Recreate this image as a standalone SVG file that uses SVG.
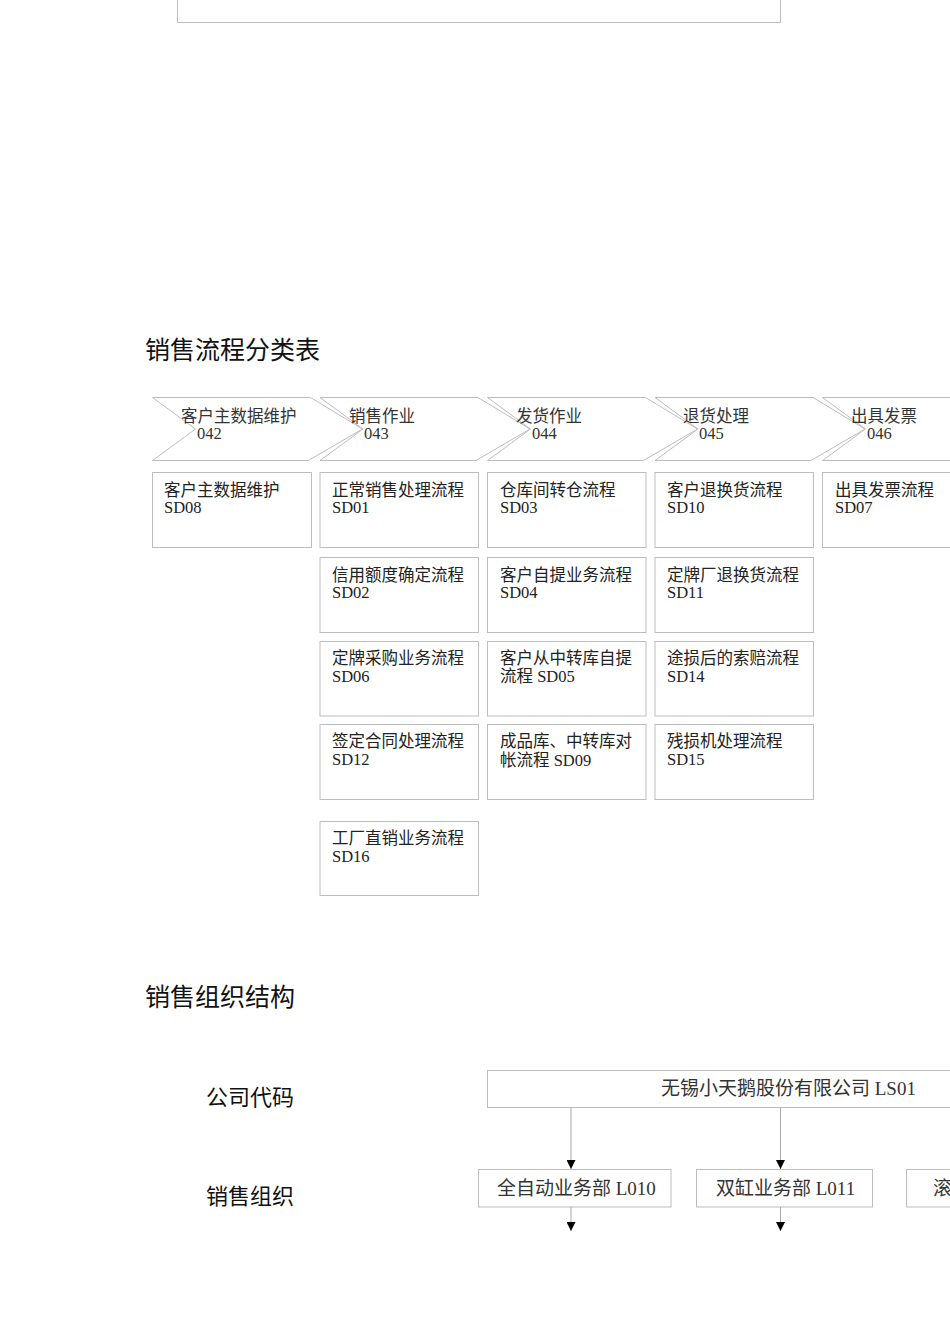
<svg xmlns="http://www.w3.org/2000/svg" width="950" height="1344" viewBox="0 0 950 1344">
<defs>
<style>
.bg{fill:#ffffff}
.box{fill:#ffffff;stroke:#bdbdbd;stroke-width:1}
.chev{fill:#ffffff;stroke:#bdbdbd;stroke-width:1}
.t{font-family:"Liberation Serif","Noto Sans CJK SC",serif;font-size:16.5px;fill:#222}
.ct{font-family:"Liberation Serif","Noto Sans CJK SC",serif;font-size:16.5px;fill:#333}
.ot{font-family:"Liberation Serif","Noto Sans CJK SC",serif;font-size:19px;fill:#333}
.h{font-family:"Noto Sans CJK SC","Liberation Sans",sans-serif;font-size:25px;fill:#111}
.lab{font-family:"Noto Sans CJK SC","Liberation Sans",sans-serif;font-size:22px;fill:#111}
.conn{stroke:#a8a8a8;stroke-width:1;fill:none}
</style>
<marker id="arr" markerWidth="9" markerHeight="9" refX="9" refY="4.5" orient="auto" markerUnits="userSpaceOnUse" viewBox="0 0 9 9">
<path d="M0,0 L9,4.5 L0,9 Z" fill="#000"/>
</marker>
</defs>
<rect class="bg" x="0" y="0" width="950" height="1344"/>

<g id="top-box"><rect class="box" x="177.5" y="-5" width="603" height="27.5"/></g>

<text class="h" x="145" y="359">销售流程分类表</text>

<g id="chev-042">
<polygon class="chev" points="152.5,397.5 310.5,397.5 362.5,429 308.5,460.5 152.5,460.5 195.5,429"/>
<text class="ct" x="181" y="422">客户主数据维护</text>
<text class="ct" x="197" y="439">042</text>
</g>
<g id="chev-043">
<polygon class="chev" points="320,397.5 478,397.5 530,429 476,460.5 320,460.5 363,429"/>
<text class="ct" x="349" y="422">销售作业</text>
<text class="ct" x="364" y="439">043</text>
</g>
<g id="chev-044">
<polygon class="chev" points="487.5,397.5 645.5,397.5 697.5,429 643.5,460.5 487.5,460.5 530.5,429"/>
<text class="ct" x="516" y="422">发货作业</text>
<text class="ct" x="532" y="439">044</text>
</g>
<g id="chev-045">
<polygon class="chev" points="655,397.5 813,397.5 865,429 811,460.5 655,460.5 698,429"/>
<text class="ct" x="683" y="422">退货处理</text>
<text class="ct" x="699" y="439">045</text>
</g>
<g id="chev-046">
<polygon class="chev" points="822.5,397.5 980.5,397.5 1032.5,429 978.5,460.5 822.5,460.5 865.5,429"/>
<text class="ct" x="851" y="422">出具发票</text>
<text class="ct" x="867" y="439">046</text>
</g>

<g id="sd08"><rect class="box" x="152.5" y="472.5" width="159" height="75"/><text class="t" x="164" y="496">客户主数据维护</text><text class="t" x="164" y="513">SD08</text></g>
<g id="sd01"><rect class="box" x="320" y="472.5" width="158.5" height="75"/><text class="t" x="332" y="496">正常销售处理流程</text><text class="t" x="332" y="513">SD01</text></g>
<g id="sd03"><rect class="box" x="487.5" y="472.5" width="158.5" height="75"/><text class="t" x="500" y="496">仓库间转仓流程</text><text class="t" x="500" y="513">SD03</text></g>
<g id="sd10"><rect class="box" x="655" y="472.5" width="158.5" height="75"/><text class="t" x="667" y="496">客户退换货流程</text><text class="t" x="667" y="513">SD10</text></g>
<g id="sd07"><rect class="box" x="822.5" y="472.5" width="160" height="75"/><text class="t" x="835" y="496">出具发票流程</text><text class="t" x="835" y="513">SD07</text></g>

<g id="sd02"><rect class="box" x="320" y="557.5" width="158.5" height="75"/><text class="t" x="332" y="581">信用额度确定流程</text><text class="t" x="332" y="598">SD02</text></g>
<g id="sd04"><rect class="box" x="487.5" y="557.5" width="158.5" height="75"/><text class="t" x="500" y="581">客户自提业务流程</text><text class="t" x="500" y="598">SD04</text></g>
<g id="sd11"><rect class="box" x="655" y="557.5" width="158.5" height="75"/><text class="t" x="667" y="581">定牌厂退换货流程</text><text class="t" x="667" y="598">SD11</text></g>

<g id="sd06"><rect class="box" x="320" y="641.5" width="158.5" height="74.5"/><text class="t" x="332" y="664">定牌采购业务流程</text><text class="t" x="332" y="682">SD06</text></g>
<g id="sd05"><rect class="box" x="487.5" y="641.5" width="158.5" height="74.5"/><text class="t" x="500" y="664">客户从中转库自提</text><text class="t" x="500" y="682">流程 SD05</text></g>
<g id="sd14"><rect class="box" x="655" y="641.5" width="158.5" height="74.5"/><text class="t" x="667" y="664">途损后的索赔流程</text><text class="t" x="667" y="682">SD14</text></g>

<g id="sd12"><rect class="box" x="320" y="724.5" width="158.5" height="75"/><text class="t" x="332" y="747">签定合同处理流程</text><text class="t" x="332" y="765">SD12</text></g>
<g id="sd09"><rect class="box" x="487.5" y="724.5" width="158.5" height="75"/><text class="t" x="500" y="747">成品库、中转库对</text><text class="t" x="500" y="766">帐流程 SD09</text></g>
<g id="sd15"><rect class="box" x="655" y="724.5" width="158.5" height="75"/><text class="t" x="667" y="747">残损机处理流程</text><text class="t" x="667" y="765">SD15</text></g>

<g id="sd16"><rect class="box" x="320" y="821.5" width="158.5" height="74"/><text class="t" x="332" y="844">工厂直销业务流程</text><text class="t" x="332" y="862">SD16</text></g>

<text class="h" x="145" y="1006">销售组织结构</text>
<text class="lab" x="206" y="1105">公司代码</text>
<text class="lab" x="206" y="1204">销售组织</text>

<g id="ls01"><rect class="box" x="487.5" y="1070.5" width="480" height="37"/><text class="ot" x="661" y="1095">无锡小天鹅股份有限公司 LS01</text></g>
<g id="l010"><rect class="box" x="478.5" y="1169.5" width="192.5" height="37.5"/><text class="ot" x="497" y="1195">全自动业务部 L010</text></g>
<g id="l011"><rect class="box" x="696.5" y="1169.5" width="176" height="37.5"/><text class="ot" x="716" y="1195">双缸业务部 L011</text></g>
<g id="l3"><rect class="box" x="906.5" y="1169.5" width="80" height="37.5"/><text class="ot" x="933" y="1195">滚</text></g>

<g id="connectors">
<line class="conn" x1="571" y1="1107.5" x2="571" y2="1169" marker-end="url(#arr)"/>
<line class="conn" x1="780.5" y1="1107.5" x2="780.5" y2="1169" marker-end="url(#arr)"/>
<line class="conn" x1="571" y1="1207" x2="571" y2="1231" marker-end="url(#arr)"/>
<line class="conn" x1="780.5" y1="1207" x2="780.5" y2="1231" marker-end="url(#arr)"/>
</g>
</svg>
